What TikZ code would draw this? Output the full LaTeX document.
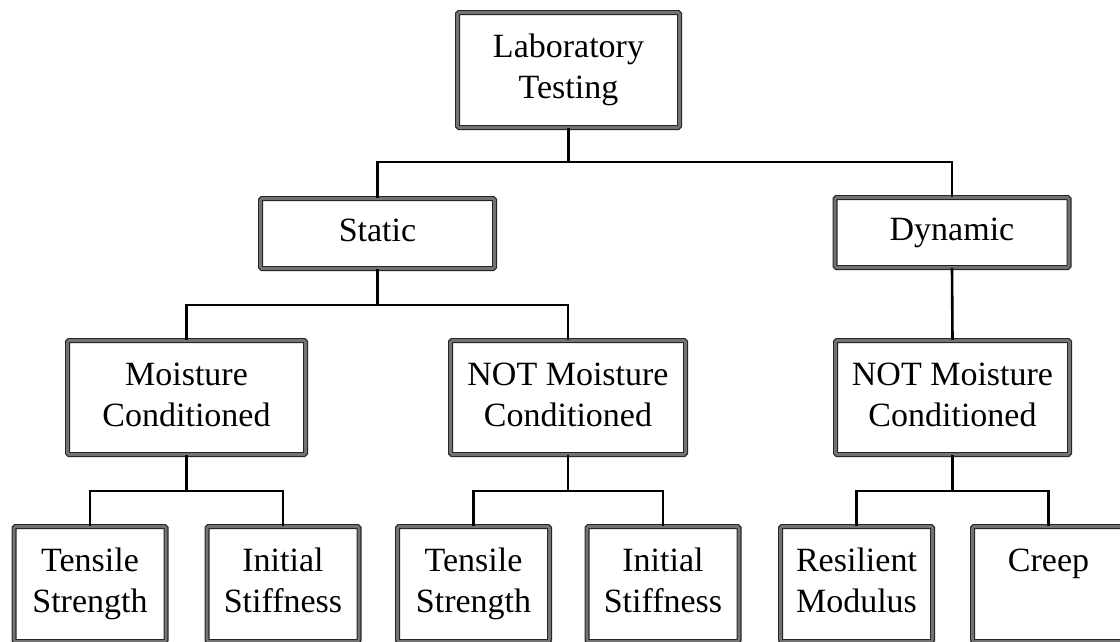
\documentclass[tikz,border=0pt]{standalone}
\usepackage{fontspec}
\setmainfont{Liberation Serif}
\begin{document}
\begin{tikzpicture}[x=1pt,y=-1pt,
  box/.style={draw=black!85, double=black!55, line width=1.2pt, double distance=2.6pt,
    rounded corners=1.5pt, inner sep=0pt, align=center, text=black,
    font=\fontsize{34}{41}\selectfont},
  topbox/.style={box, minimum width=222pt, minimum height=115pt},
  midbox/.style={box, minimum width=234pt, minimum height=70pt},
  condbox/.style={box, minimum width=236pt, minimum height=114pt},
  leafbox/.style={box, minimum width=152pt, minimum height=115pt},
  link/.style={draw=black, line width=2.6pt}]
\useasboundingbox (0,0) rectangle (1120,641);
\clip (0,0) rectangle (1120,641);
\fill[white] (0,0) rectangle (1120,641);

\node[topbox] (lab) at (568.5,70) {Laboratory\strut\\Testing\strut};
\node[midbox] (static) at (377.5,233.5) {Static\strut};
\node[midbox] (dyn) at (952,232.5) {Dynamic\strut};
\node[condbox, minimum width=238pt] (mc) at (186.5,397.5) {Moisture\strut\\Conditioned\strut};
\node[condbox, minimum width=235pt] (nmcs) at (568,397.5) {NOT Moisture\strut\\Conditioned\strut};
\node[condbox, minimum width=234pt] (nmcd) at (952.5,397.5) {NOT Moisture\strut\\Conditioned\strut};

\node[leafbox] (ts1) at (90,584) {Tensile\strut\\Strength\strut};
\node[leafbox] (is1) at (283,584) {Initial\strut\\Stiffness\strut};
\node[leafbox] (ts2) at (473.5,584) {Tensile\strut\\Strength\strut};
\node[leafbox] (is2) at (663,584) {Initial\strut\\Stiffness\strut};
\node[leafbox] (rm) at (856.5,584) {Resilient\strut\\Modulus\strut};
\node[leafbox] (cr) at (1048.5,584) {Creep\strut\\\strut};

\coordinate (j1) at (568.5,162);
\coordinate (j2) at (377.5,305);
\coordinate (j3) at (186.5,491);
\coordinate (j4) at (568,491);
\coordinate (j5) at (952.5,491);

\draw[link] (lab.south) -- (j1);
\draw[link] (static.north) |- (j1) -| (dyn.north);
\draw[link] (static.south) -- (j2);
\draw[link] (mc.north) |- (j2) -| (nmcs.north);
\draw[link] (dyn.south) -- (nmcd.north);
\draw[link] (mc.south) -- (j3);
\draw[link] (ts1.north) |- (j3) -| (is1.north);
\draw[link] (nmcs.south) -- (j4);
\draw[link] (ts2.north) |- (j4) -| (is2.north);
\draw[link] (nmcd.south) -- (j5);
\draw[link] (rm.north) |- (j5) -| (cr.north);
\end{tikzpicture}
\end{document}
